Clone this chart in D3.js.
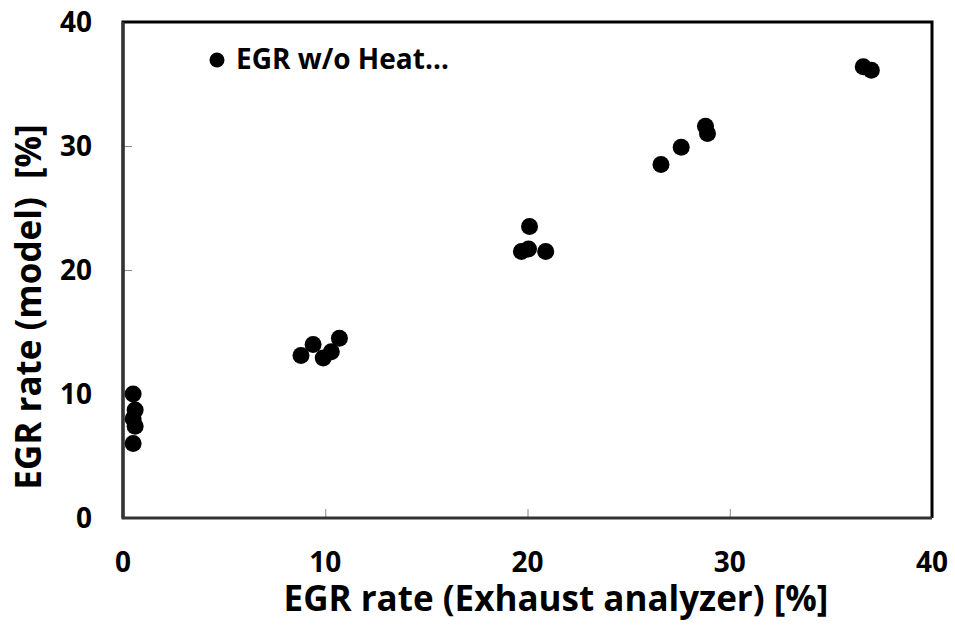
<!DOCTYPE html>
<html>
<head>
<meta charset="utf-8">
<script src="https://cdn.jsdelivr.net/npm/d3@7"></script>
<style>
  body { margin: 0; background: #fff; }
  text { font-family: "Open Sans", Lato, sans-serif; font-weight: bold; fill: #000; }
</style>
</head>
<body>
<svg width="955" height="626"></svg>
<script>
// measured EGR (exhaust analyzer) vs model EGR, in %
var xMeasured = [0.5, 0.6, 0.5, 0.6, 0.5,
                 8.8, 9.4, 9.9, 10.3, 10.7,
                 20.1, 19.7, 20.05, 20.9,
                 26.6, 27.6, 28.8, 28.9,
                 36.6, 37.0]
var yModel = [10.0, 8.7, 8.0, 7.4, 6.0,
              13.1, 14.0, 12.9, 13.4, 14.5,
              23.5, 21.5, 21.7, 21.5,
              28.5, 29.9, 31.6, 31.0,
              36.4, 36.1]
var xTicks = [0, 10, 20, 30, 40]
var yTicks = [0, 10, 20, 30, 40]
var seriesName = "EGR w/o Heat…"

var svg = d3.select("svg")
var pLeft = 123, pRight = 932, pTop = 22, pBottom = 518

var x = d3.scaleLinear().domain([0, 40]).range([pLeft, pRight])
var y = d3.scaleLinear().domain([0, 40]).range([pBottom, pTop])

// inner tick marks
svg.append("g")
    .attr("transform", "translate(0," + pBottom + ")")
    .call(d3.axisTop(x).tickValues(xTicks).tickSize(9).tickFormat(""))
    .call(function(g){ g.select(".domain").remove() })
    .selectAll("line").attr("stroke", "#888")

svg.append("g")
    .attr("transform", "translate(" + pLeft + ",0)")
    .call(d3.axisRight(y).tickValues(yTicks).tickSize(9).tickFormat(""))
    .call(function(g){ g.select(".domain").remove() })
    .selectAll("line").attr("stroke", "#888")

// plot frame
svg.append("path")
    .attr("d", "M" + pLeft + "," + pBottom + "V" + pTop + "H" + pRight + "V" + pBottom)
    .attr("fill", "none").attr("stroke", "#000").attr("stroke-width", 3)
svg.append("path")
    .attr("d", "M" + pRight + "," + pBottom + "H" + pLeft + "V" + pTop)
    .attr("fill", "none").attr("stroke", "#333").attr("stroke-width", 3)

// tick labels
svg.selectAll(".xlab").data(xTicks).enter().append("text")
    .attr("x", function(d){ return x(d) })
    .attr("y", 572)
    .attr("text-anchor", "middle")
    .style("font-size", "28px")
    .text(function(d){ return d })

svg.selectAll(".ylab").data(yTicks).enter().append("text")
    .attr("x", 92)
    .attr("y", function(d){ return y(d) + 10 })
    .attr("text-anchor", "end")
    .style("font-size", "28px")
    .text(function(d){ return d })

// axis titles
svg.append("text")
    .attr("x", 556).attr("y", 611)
    .attr("text-anchor", "middle")
    .style("font-size", "35px")
    .text("EGR rate (Exhaust analyzer) [%]")

svg.append("text")
    .attr("transform", "translate(41,307) rotate(-90)")
    .attr("text-anchor", "middle")
    .style("font-size", "35px")
    .style("white-space", "pre")
    .text("EGR rate (model)  [%]")

// points
svg.selectAll("circle.pt").data(xMeasured).enter().append("circle")
    .attr("class", "pt")
    .attr("cx", function(d){ return x(d) })
    .attr("cy", function(d, i){ return y(yModel[i]) })
    .attr("r", 8.5)
    .style("fill", "#000")

// legend
svg.append("circle").attr("cx", 217).attr("cy", 60).attr("r", 7.5).style("fill", "#000")
svg.append("text")
    .attr("x", 236).attr("y", 69)
    .style("font-size", "28px")
    .text(seriesName)
</script>
</body>
</html>
